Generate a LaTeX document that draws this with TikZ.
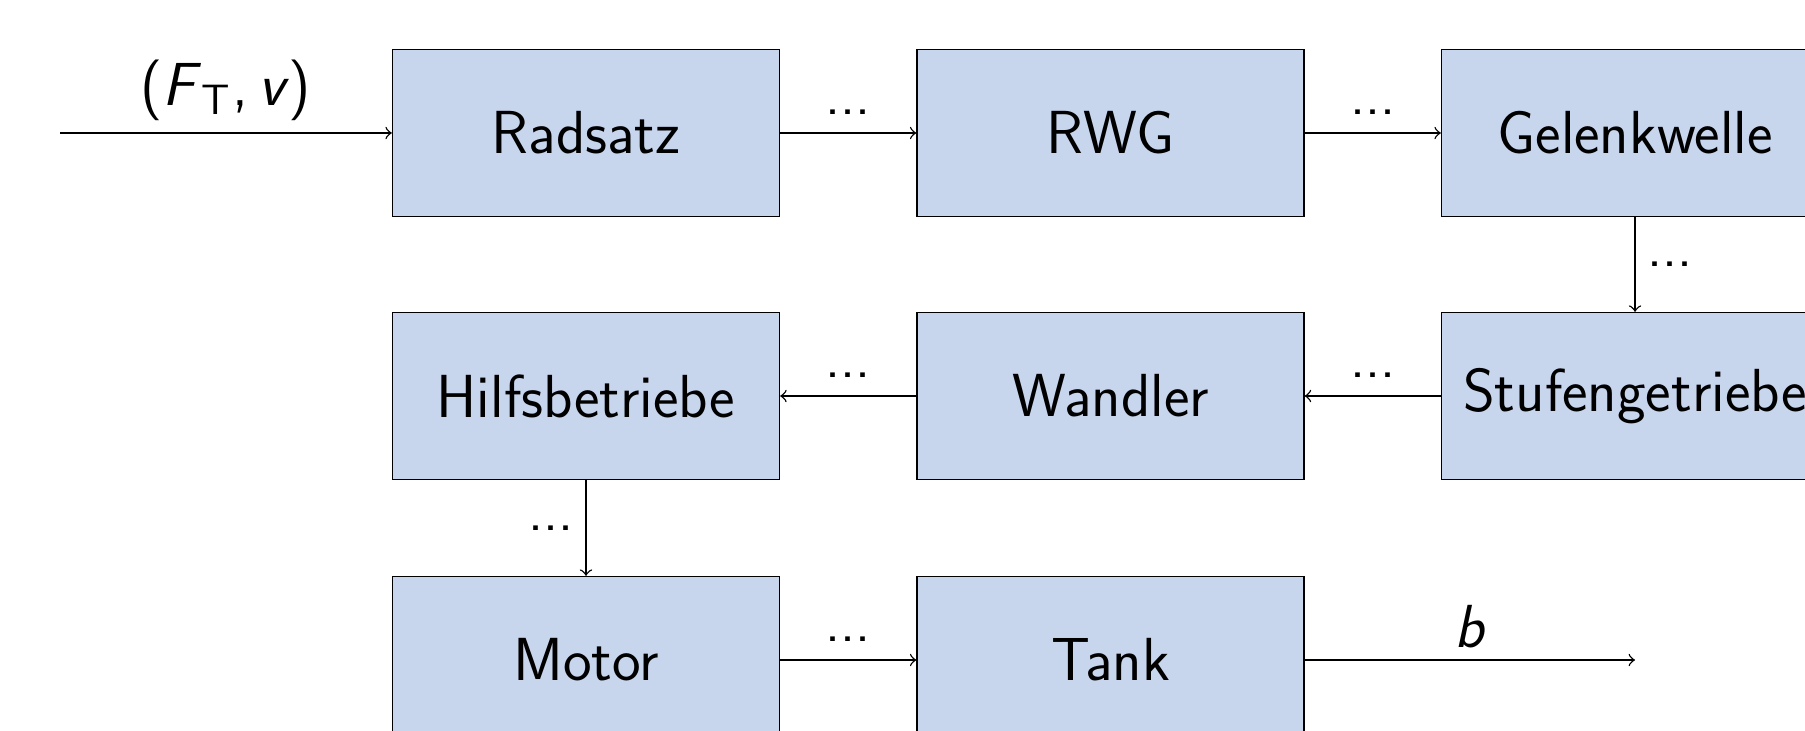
\documentclass[tikz,border=0pt]{standalone}
\definecolor{boxfill}{RGB}{199,213,237}
\begin{document}
\begin{tikzpicture}[
		block/.style={draw, fill=boxfill, minimum width=3.87cm, minimum height=1.67cm, font=\sffamily\fontsize{17.3}{20}\selectfont},
		lbl/.style={font=\sffamily\fontsize{17.3}{20}\selectfont},
		dotlbl/.style={font=\sffamily\fontsize{16.4}{20}\selectfont}]
				\useasboundingbox (0,0) rectangle (18.05,-7.31);
				\coordinate (In) at (0.60,-1.33);
				\coordinate (Out) at (16.35,-6.60);
				\node[block] (Rad) at (5.86,-1.33) {Radsatz};
				\node[block] (RWG) at (11.105,-1.33) {RWG};
				\node[block] (Gel) at (16.35,-1.33) {Gelenkwelle};
				\node[block] (Hilf) at (5.86,-3.96) {Hilfsbetriebe};
				\node[block] (Wand) at (11.105,-3.96) {Wandler};
				\node[block] (Stuf) at (16.35,-3.96) {Stufengetriebe};
				\node[block] (Mot) at (5.86,-6.60) {Motor};
				\node[block] (Tank) at (11.105,-6.60) {Tank};
				\draw[->] (In) -- (Rad) node[lbl, midway, above] {(\textit{F}\textsubscript{T},\,\textit{v})};
				\draw[->] (Rad) -- (RWG) node[dotlbl, midway, above=1.7pt] {...};
				\draw[->] (RWG) -- (Gel) node[dotlbl, midway, above=1.7pt] {...};
				\draw[->] (Gel) -- (Stuf) node[dotlbl, midway, right] {...};
				\draw[->] (Stuf) -- (Wand) node[dotlbl, midway, above=1.7pt] {...};
				\draw[->] (Wand) -- (Hilf) node[dotlbl, midway, above=1.7pt] {...};
				\draw[->] (Hilf) -- (Mot) node[dotlbl, midway, left] {...};
				\draw[->] (Mot) -- (Tank) node[dotlbl, midway, above=1.7pt] {...};
				\draw[->] (Tank) -- (Out) node[lbl, midway, above] {\textit{b}};
			\end{tikzpicture}
\end{document}
